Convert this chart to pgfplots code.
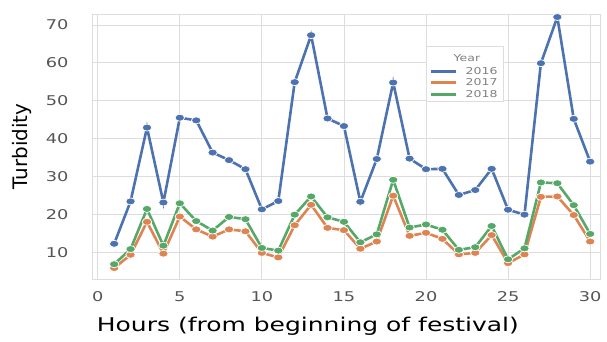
\documentclass[border=0pt]{standalone}
\usepackage{pgfplots}
\pgfplotsset{compat=1.18}
\usepackage{fontspec}
\setmainfont{DejaVu Sans}
\definecolor{sbblue}{HTML}{4C72B0}
\definecolor{sborange}{HTML}{DD8452}
\definecolor{sbgreen}{HTML}{55A868}
\definecolor{gridc}{HTML}{DDDDDD}
\definecolor{tickc}{HTML}{555555}
\newcommand{\wide}[1]{\scalebox{1.32}[1]{#1}}
\begin{document}
\begin{tikzpicture}[x=1bp,y=1bp]
\useasboundingbox (0,0) rectangle (607bp,342bp);
\begin{axis}[
  at={(92bp,63bp)}, anchor=south west,
  scale only axis, width=508bp, height=265bp,
  xmin=-0.35, xmax=30.6, ymin=2.9, ymax=72.9,
  xtick={0,5,...,30}, ytick={10,20,...,70},
  grid=major, major grid style={gridc, line width=0.8bp},
  axis line style={gridc, line width=0.8bp},
  tick style={draw=none},
  /pgf/number format/assume math mode=true,
  ticklabel style={font=\fontsize{13.5}{15}\selectfont, text=tickc},
  xticklabel={\wide{\pgfmathprintnumber{\tick}}},
  yticklabel={\wide{\pgfmathprintnumber{\tick}}},
  xticklabel style={yshift=-9bp},
  yticklabel style={xshift=-20bp},
  xlabel={\wide{Hours (from beginning of festival)}},
  ylabel={Turbidity},
  xlabel style={font=\fontsize{19}{22}\selectfont, at={(axis description cs:0.425,0)}, anchor=north, yshift=-35bp},
  ylabel style={font=\fontsize{20}{23}\selectfont, at={(axis description cs:0,0.5)}, anchor=center, yshift=70bp},
  every axis plot/.append style={line width=2.6bp, mark=*, mark size=3.5bp,
     mark options={draw=white, line width=0.7bp, xscale=1.35}},
  legend style={at={(rel axis cs:0.659,0.808)}, anchor=north west, draw=none, fill=none,
     font=\fontsize{9.5}{10.5}\selectfont, text=gray, row sep=-1bp,
     inner xsep=3bp, inner ysep=0bp, legend cell align=left},
  legend image code/.code={\draw[line width=2.8bp] (0bp,0bp) -- (25bp,0bp); \path (31bp,0bp);},
]
\fill[white, draw=gridc, line width=0.6bp] (rel axis cs:0.659,0.879) rectangle (rel axis cs:0.809,0.672);
\node[font=\fontsize{9.5}{10.5}\selectfont, text=gray] at (rel axis cs:0.738,0.834) {\wide{Year}};
\addplot[color=sbblue] coordinates {
(1,12.2)(2,23.4)(3,42.9)(4,23.1)(5,45.5)(6,44.8)(7,36.3)(8,34.3)(9,31.9)(10,21.3)
(11,23.5)(12,54.9)(13,67.3)(14,45.3)(15,43.3)(16,23.3)(17,34.6)(18,54.8)(19,34.7)(20,31.9)
(21,32.0)(22,25.1)(23,26.4)(24,32.0)(25,21.2)(26,19.9)(27,59.9)(28,72.1)(29,45.2)(30,33.9)};
\addlegendentry{\wide{2016}}
\addplot[color=sborange] coordinates {
(1,5.8)(2,9.3)(3,18.0)(4,9.6)(5,19.4)(6,16.0)(7,14.1)(8,16.0)(9,15.5)(10,9.8)
(11,8.6)(12,17.1)(13,22.5)(14,16.4)(15,15.8)(16,10.9)(17,12.8)(18,24.9)(19,14.3)(20,15.1)
(21,13.5)(22,9.4)(23,9.8)(24,14.5)(25,7.1)(26,9.4)(27,24.6)(28,24.7)(29,19.8)(30,12.8)};
\addlegendentry{\wide{2017}}
\addplot[color=sbgreen] coordinates {
(1,6.8)(2,10.8)(3,21.4)(4,11.7)(5,22.9)(6,18.2)(7,15.7)(8,19.3)(9,18.7)(10,11.1)
(11,10.4)(12,19.9)(13,24.7)(14,19.2)(15,18.0)(16,12.6)(17,14.7)(18,29.1)(19,16.5)(20,17.3)
(21,15.9)(22,10.6)(23,11.3)(24,16.9)(25,8.1)(26,11.0)(27,28.4)(28,28.2)(29,22.4)(30,14.8)};
\addlegendentry{\wide{2018}}
\end{axis}
\end{tikzpicture}
\end{document}
